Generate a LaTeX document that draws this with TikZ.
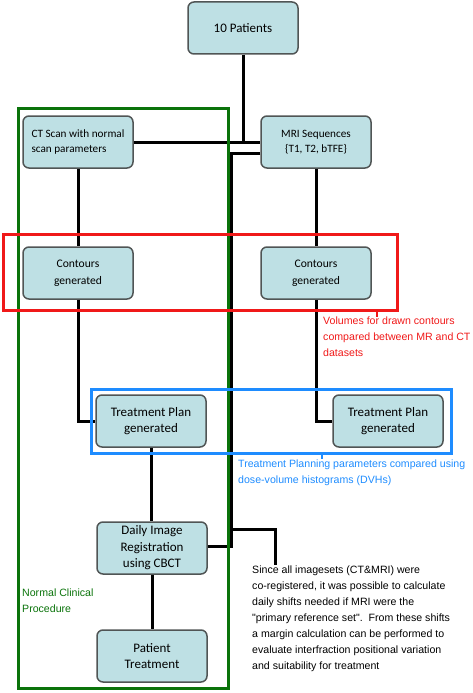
\documentclass[tikz,border=0pt]{standalone}
\usepackage{fontspec}
\setmainfont{Carlito}
\newfontfamily\annfont{Liberation Sans}
\usepackage{tikz}
\usetikzlibrary{positioning,calc,arrows.meta}

\definecolor{boxfill}{RGB}{190,224,228}
\definecolor{boxline}{RGB}{80,85,85}
\definecolor{procgreen}{RGB}{10,115,10}
\definecolor{cmpred}{RGB}{240,25,25}
\definecolor{cmpblue}{RGB}{30,140,255}

\tikzset{
    boxnode/.style={draw=boxline, line width=1.5pt, fill=boxfill, rounded corners=6pt,
        minimum width=110pt, minimum height=52pt, align=center,
        font=\fontsize{11.2}{15}\selectfont},
    bigtext/.style={font=\fontsize{13}{16.5}\selectfont},
    link/.style={line width=3pt, black},
    frame/.style={line width=3pt},
    annot/.style={anchor=north west, align=left, inner sep=0pt,
        font=\annfont\fontsize{10.6}{16}\selectfont}
}

\begin{document}
\begin{tikzpicture}[x=1pt, y=-1pt]
    \useasboundingbox (0,0) rectangle (472,693);

    % Boxes
    \node[boxnode, bigtext] (pat) at (243,28) {10 Patients};
    \node[boxnode, align=left] (ct) at (78,142) {CT Scan with normal\\scan parameters};
    \node[boxnode] (mri) at (316,142) {MRI Sequences\\\{T1, T2, bTFE\}};
    \node[boxnode, font=\fontsize{11.6}{17}\selectfont] (conL) at (78,273) {Contours\\generated};
    \node[boxnode, font=\fontsize{11.6}{17}\selectfont] (conR) at (316,273) {Contours\\generated};
    \node[boxnode, bigtext] (tpL) at (151,421) {Treatment Plan\\generated};
    \node[boxnode, bigtext] (tpR) at (388,421) {Treatment Plan\\generated};
    \node[boxnode, bigtext] (daily) at (152,548) {Daily Image\\Registration\\using CBCT};
    \node[boxnode, bigtext] (treat) at (152,656) {Patient\\Treatment};

    % Connectors
    \coordinate (bustop) at (231,153);
    \coordinate (busbot) at (231,546);
    \coordinate (notebr) at (231,529);
    \coordinate (notetick) at (275,565);
    \draw[link] (ct.east) -- (mri.west);
    \draw[link] (pat.south) -- (pat.south |- mri.west);
    \draw[link] (mri.west |- bustop) -- (bustop) -- (busbot) -- (busbot -| daily.east);
    \draw[link] (notebr) -| (notetick);
    \draw[link] (ct) -- (conL);
    \draw[link] (mri) -- (conR);
    \draw[link] (conL.south) |- (tpL.west);
    \draw[link] (conR.south) |- (tpR.west);
    \draw[link] (tpL.south) -- (tpL.south |- daily.north);
    \draw[link] (daily) -- (treat);

    % Comparison frames
    \draw[frame, procgreen] (18,108) rectangle (228,688);
    \draw[frame, cmpred] (3,234) rectangle (397,310);
    \draw[frame, cmpblue] (91,389) rectangle (451,453);
    \draw[line width=1.6pt, cmpred] (377,310) -- (377,317);
    \draw[line width=1.6pt, cmpblue] (322,453) -- (322,459);

    % Notes
    \node[annot, text=cmpred] (rednote) at (323,317)
        {Volumes for drawn contours\\compared between MR and CT\\datasets};
    \node[annot, text=cmpblue] (bluenote) at (238,460)
        {Treatment Planning parameters compared using\\dose-volume histograms (DVHs)};
    \node[annot, text=procgreen] (procnote) at (22,589)
        {Normal Clinical\\Procedure};
    \node[annot] (shiftnote) at (252,566)
        {Since all imagesets (CT\&MRI) were\\co-registered, it was possible to calculate\\daily shifts needed if MRI were the\\"primary reference set".\ \ From these shifts\\a margin calculation can be performed to\\evaluate interfraction positional variation\\and suitability for treatment};
\end{tikzpicture}
\end{document}
